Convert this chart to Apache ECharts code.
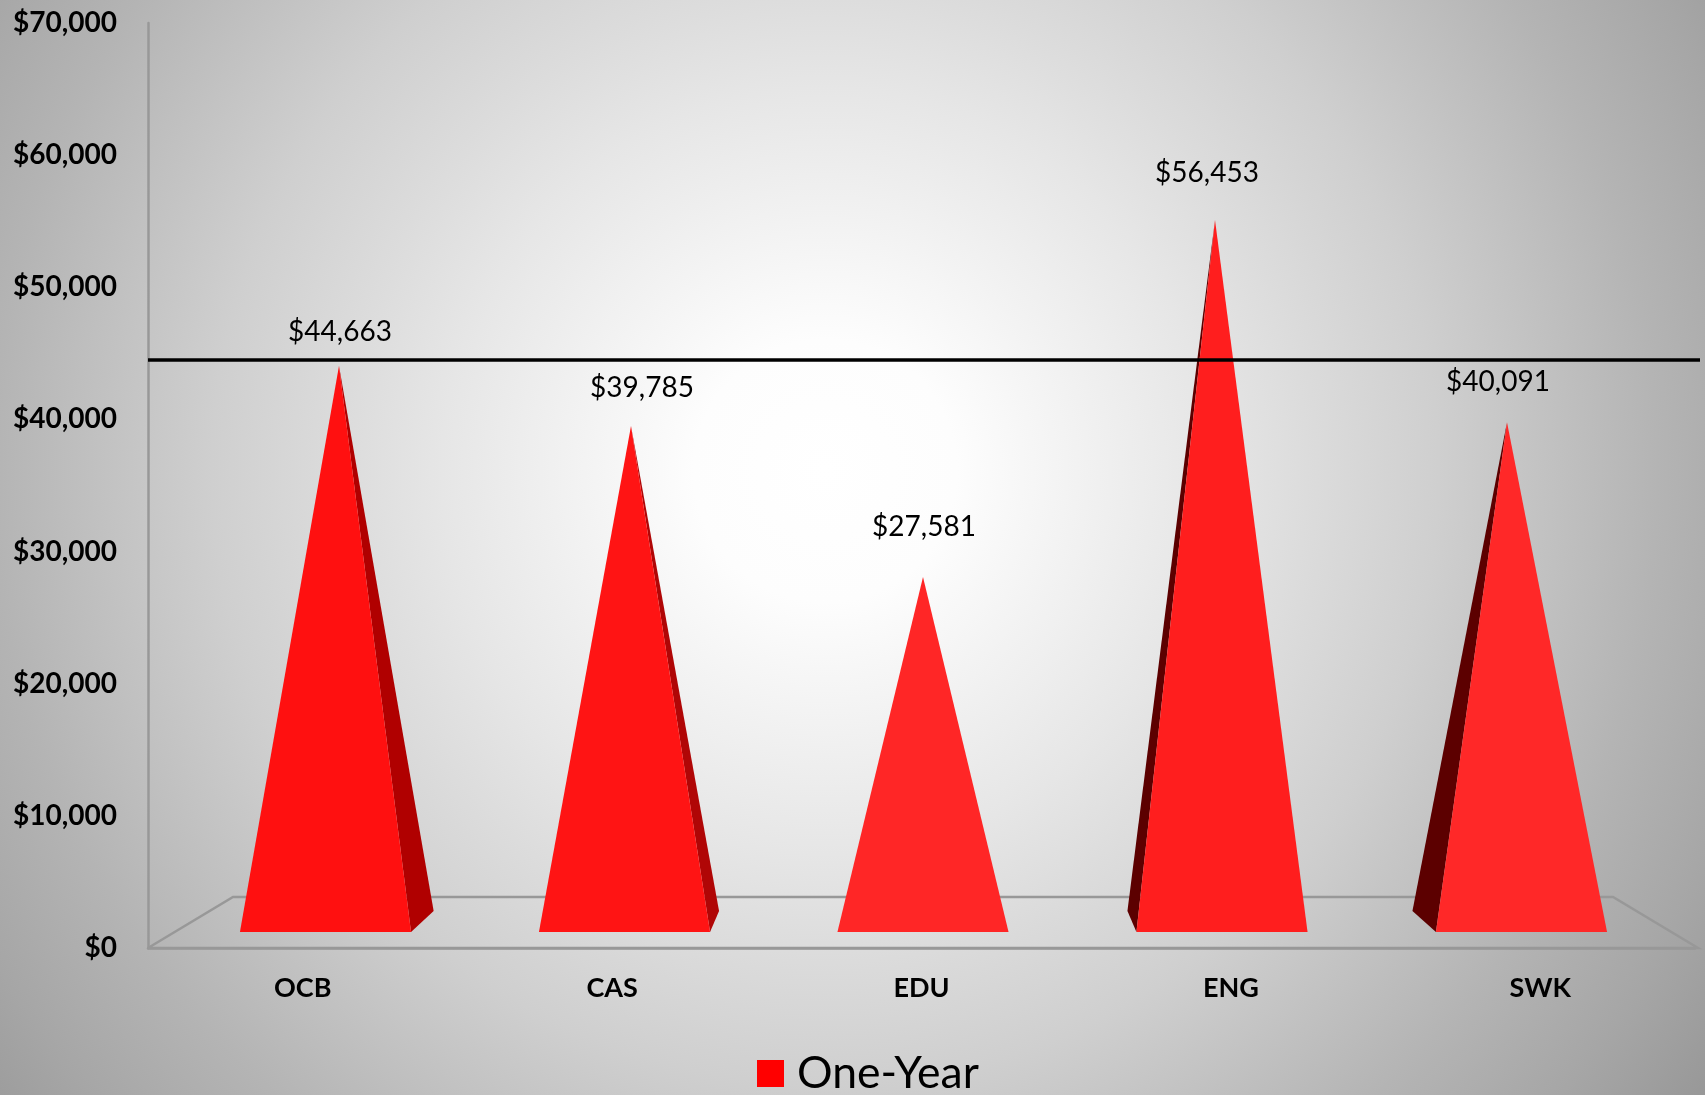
<!DOCTYPE html>
<html>
<head>
<meta charset="utf-8">
<script src="https://cdn.jsdelivr.net/npm/echarts@6/dist/echarts.min.js"></script>
<style>html,body{margin:0;padding:0;background:#ccc}#c{width:1705px;height:1095px}</style>
</head>
<body>
<div id="c"></div>
<script>
const categories = ['OCB', 'CAS', 'EDU', 'ENG', 'SWK'];
const oneYear = [44663, 39785, 27581, 56453, 40091];
const benchmark = 44500;
const seriesName = 'One-Year';
const axisMax = 70000;
const axisStep = 10000;

const money = v => '$' + Number(v).toLocaleString('en-US');
const FONT = 'Lato';
const GREY = '#989898';

// appearance of each pyramid (the source is a 3-D perspective chart)
const FRONT = ['#ff1010', '#ff1414', '#ff2626', '#ff1e1e', '#ff2828'];
const SIDE = ['#b00000', '#b00606', '#a00000', '#5c0000', '#5c0000'];
const SKEW_BASE = [-13.5, -6.5, 0, 7, 14.5];
const SKEW_SIDE = [22.6, 9, 0, -9, -23.5];
const LABEL_NUDGE = [[1, -34], [11, -38], [1, -50], [-8, -47], [-9, -40]];

function pyramid(params, api) {
  const i = api.value(0);
  const apex = api.coord([i, api.value(1)]);
  const zero = api.coord([i, 0]);
  const half = api.size([1, 0])[0] * 0.293;
  const baseY = zero[1] + 14;
  const cx = apex[0] + SKEW_BASE[i];
  const l = [cx - half, baseY], r = [cx + half, baseY];
  const children = [];
  if (SKEW_SIDE[i] !== 0) {
    const edge = SKEW_SIDE[i] > 0 ? r : l;
    children.push({
      type: 'polygon',
      shape: { points: [edge, [edge[0] + SKEW_SIDE[i], zero[1] - 7], apex] },
      style: { fill: SIDE[i] }
    });
  }
  children.push({
    type: 'polygon',
    shape: { points: [l, r, apex] },
    style: { fill: FRONT[i] }
  });
  children.push({
    type: 'text',
    style: {
      text: money(api.value(1)),
      x: apex[0] + LABEL_NUDGE[i][0],
      y: apex[1] + LABEL_NUDGE[i][1],
      align: 'center',
      verticalAlign: 'middle',
      fontFamily: FONT,
      fontSize: 28,
      fill: '#000000'
    }
  });
  return { type: 'group', children };
}

function floor(params, api) {
  const g = params.coordSys;
  const y = g.y + g.height;
  const right = g.x + g.width + 3;
  const inX = 85, inY = 51;
  return {
    type: 'polyline',
    shape: { points: [[g.x, y], [g.x + inX, y - inY], [right - inX, y - inY], [right, y], [g.x, y]] },
    style: { fill: 'none', stroke: GREY, lineWidth: 2.5 }
  };
}

function benchmarkLine(params, api) {
  const g = params.coordSys;
  const y = api.coord([0, api.value(1)])[1];
  return {
    type: 'line',
    shape: { x1: g.x, y1: y, x2: g.x + g.width + 5, y2: y },
    style: { stroke: '#000000', lineWidth: 3.4 }
  };
}

const chart = echarts.init(document.getElementById('c'));
chart.setOption({
  animation: false,
  backgroundColor: {
    type: 'radial', x: 0.484, y: 0.43, r: 1.0,
    colorStops: [
      { offset: 0, color: '#ffffff' },
      { offset: 0.12, color: '#fdfdfd' },
      { offset: 0.35, color: '#e6e6e6' },
      { offset: 0.44, color: '#dcdcdc' },
      { offset: 0.56, color: '#cfcfcf' },
      { offset: 0.76, color: '#b4b4b4' },
      { offset: 0.88, color: '#a6a6a6' },
      { offset: 1, color: '#969696' }
    ]
  },
  textStyle: { fontFamily: FONT },
  legend: {
    data: [seriesName],
    left: 752, top: 1046,
    icon: 'rect',
    itemWidth: 27, itemHeight: 27,
    textStyle: { fontFamily: FONT, fontSize: 44.5, color: '#000000', padding: [0, 0, 0, 8] }
  },
  grid: [
    { left: 148, right: 10, top: 23, bottom: 147 },
    { left: 193, right: 52, top: 52.5, bottom: 177 }
  ],
  xAxis: [
    { type: 'category', gridIndex: 0, data: categories,
      axisLine: { show: true, lineStyle: { color: GREY, width: 2.5 } },
      axisTick: { show: false },
      axisLabel: { margin: 27, fontFamily: FONT, fontWeight: 'bold', fontSize: 27, color: '#000000' } },
    { type: 'category', gridIndex: 1, data: categories, show: false }
  ],
  yAxis: [
    { type: 'value', gridIndex: 0, min: 0, max: axisMax, interval: axisStep,
      axisLine: { show: true, lineStyle: { color: GREY, width: 2.5 } },
      axisTick: { show: false },
      splitLine: { show: false },
      axisLabel: { margin: 31, fontFamily: FONT, fontWeight: 'bold', fontSize: 28, color: '#000000', formatter: money, padding: [2, 0, 0, 0] } },
    { type: 'value', gridIndex: 1, min: 0, max: axisMax, interval: axisStep, show: false, splitLine: { show: false } }
  ],
  series: [
    { type: 'custom', name: 'Floor', xAxisIndex: 0, yAxisIndex: 0, z: 1, silent: true,
      renderItem: floor, data: [[0, 0]], clip: false },
    { type: 'custom', name: seriesName, xAxisIndex: 1, yAxisIndex: 1, z: 2,
      itemStyle: { color: '#ff0000' },
      encode: { x: 0, y: 1 }, clip: false,
      renderItem: pyramid,
      data: oneYear.map((v, i) => [i, v]) },
    { type: 'custom', name: 'Benchmark', xAxisIndex: 0, yAxisIndex: 0, z: 3, silent: true,
      renderItem: benchmarkLine, data: [[0, benchmark]], clip: false }
  ]
});
</script>
</body>
</html>
